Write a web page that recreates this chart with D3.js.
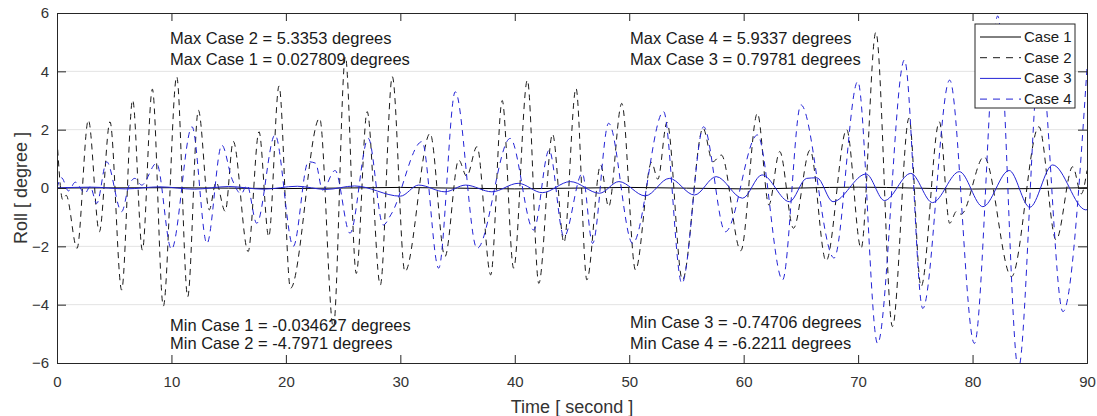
<!DOCTYPE html>
<html>
<head>
<meta charset="utf-8">
<script src="https://cdn.jsdelivr.net/npm/d3@7"></script>
<style>
  body { margin: 0; background: #fff; }
  svg { font-family: "Liberation Sans", Arial, sans-serif; }
</style>
</head>
<body>
<svg id="drawing_region"></svg>
<script>
// [time (s), roll (deg)] at turning points
const case1 = [[0,0],[10,0.01],[20,-0.02],[30,0.02],[40,-0.03],[50,0.02],[60,-0.03],[70,0.028],[80,-0.035],[90,0.01]];

const case2 = [[0,1.7],[0.5,-0.4],[0.8,-0.25],[1.75,-2.07],[2.74,2.33],[3.7,-1.5],[4.63,2.27],[5.65,-3.5],
  [6.61,3.02],[7.46,-2.13],[8.33,3.39],[9.29,-4.05],[10.46,3.82],[11.42,-3.73],[12.35,2.67],[13.3,-0.75],
  [13.9,0.2],[14.7,-0.8],[15.4,1.6],[16.7,-2.18],[17.65,1.93],[18.5,-1.67],[19.4,3.5],[20.4,-3.44],
  [22.95,2.39],[24.15,-4.8],[25.2,4.5],[26.15,-2.93],[27.1,2.62],[28.25,-3.33],[29.3,3.82],[30.4,-2.87],
  [32.6,1.87],[33.9,-2.35],[35.1,0.96],[35.8,0.4],[36.7,1.42],[37.9,-2.98],[38.9,3.0],[39.9,-2.75],
  [41.1,3.7],[42.1,-3.27],[43.3,1.85],[44.3,-1.87],[45.35,3.42],[46.3,-3.15],[47.5,0.79],[48.2,-0.64],
  [49.35,2.9],[50.55,-2.81],[51.95,0.88],[52.5,0.3],[53.3,2.25],[54.65,-3.15],[56.45,2.05],[57.3,0.9],
  [58.05,1.13],[59.75,-2.15],[61.2,2.56],[62.2,-0.58],[63.15,1.25],[64.35,-1.38],[65.8,1.3],[67.2,-2.5],
  [69.0,2.0],[70.26,-2.07],[71.55,5.34],[73.0,-4.75],[74.45,2.4],[75.5,-3.38],[77.1,2.27],[78.0,-1.21],
  [78.6,-0.8],[79.0,-0.9],[81.0,1.07],[83.4,-3.04],[85.8,2.1],[87.3,-1.78],[88.75,0.73],[89.5,-0.2],[90,0.6]];

const case3 = [[0,0],[3,0.03],[6,-0.03],[9,0.04],[12,-0.04],[15,0.05],[18,-0.04],[21,0.06],[23.5,-0.05],
  [26,0.07],[30,-0.28],[31.6,0.1],[33.9,-0.13],[35.7,0.1],[38.0,-0.13],[40.3,0.16],[42.4,-0.16],[44.85,0.22],
  [47.4,-0.18],[49.1,0.22],[51.4,-0.27],[53.5,0.33],[55.7,-0.24],[57.6,0.39],[59.9,-0.35],[61.6,0.45],
  [64.0,-0.47],[65.5,0.33],[66.4,0.35],[67.8,-0.47],[70.7,0.48],[72.3,-0.43],[74.6,0.5],[76.5,-0.5],
  [78.85,0.56],[80.9,-0.64],[83.2,0.6],[85.0,-0.66],[87.0,0.79],[89.9,-0.75],[90,-0.74]];

const case4 = [[0,0],[0.4,0.35],[1.0,-0.1],[1.6,0.2],[2.45,-0.18],[2.9,0.05],[3.47,-0.53],[4.34,0.9],
  [5.65,-0.81],[6.3,0.1],[6.8,0.33],[7.4,0.1],[8.7,0.85],[10.0,-2.1],[11.8,2.1],[13.1,-1.9],[14.4,1.47],
  [15.3,0.3],[16.1,-0.2],[16.6,0.1],[17.45,-1.21],[19.05,1.82],[20.65,-2.0],[21.96,0.9],[22.6,0.85],
  [23.2,-0.07],[24.3,0.6],[25.6,-1.55],[27.2,1.7],[28.5,-1.27],[29.2,-0.9],[31.9,1.59],[33.35,-2.75],
  [34.8,3.3],[36.7,-2.07],[39.6,1.7],[41.65,-1.44],[43.0,1.3],[44.3,-1.67],[45.9,0.5],[46.8,-1.9],
  [48.2,2.22],[50.3,-1.9],[53.0,2.62],[54.6,-3.27],[56.5,2.1],[58.4,-1.5],[61.2,1.82],[63.4,-3.15],
  [65.0,2.85],[67.9,-2.4],[69.97,3.65],[71.7,-5.33],[74.05,4.39],[75.65,-4.13],[78.0,3.7],[80.16,-5.33],
  [82.2,5.9],[84.0,-6.2],[85.9,4.5],[87.9,-4.24],[90,4.1]];

const xTicks = [0,10,20,30,40,50,60,70,80,90];
const yTicks = [-6,-4,-2,0,2,4,6];
const gridTicks = [-4,-2,2,4];

const seriesNames = ['Case 1','Case 2','Case 3','Case 4'];
const seriesColors = ['#000','#1a1a1a','#2323d6','#2323d6'];
const seriesDash = [null,'6,5',null,'6,5'];

const maxTexts = [['Max Case 2 = 5.3353 degrees','Max Case 1 = 0.027809 degrees'],
                  ['Max Case 4 = 5.9337 degrees','Max Case 3 = 0.79781 degrees']];
const minTexts = [['Min Case 1 = -0.034627 degrees','Min Case 2 = -4.7971 degrees'],
                  ['Min Case 3 = -0.74706 degrees','Min Case 4 = -6.2211 degrees']];

const width = 1097, height = 416;
const margin = {left:57, right:10, top:13, bottom:53};
const plotW = width - margin.left - margin.right;
const plotH = height - margin.top - margin.bottom;

const svg = d3.select('#drawing_region')
    .attr('width', width)
    .attr('height', height);

const xscale = d3.scaleLinear().domain([0,90]).range([margin.left, margin.left + plotW]);
const yscale = d3.scaleLinear().domain([-6,6]).range([margin.top + plotH, margin.top]);

svg.append('defs').append('clipPath').attr('id','clip')
  .append('rect')
    .attr('x', margin.left).attr('y', margin.top)
    .attr('width', plotW).attr('height', plotH);

// grid
svg.append('g').selectAll('line')
  .data(gridTicks)
  .join('line')
    .attr('x1', margin.left).attr('x2', margin.left + plotW)
    .attr('y1', d => yscale(d)).attr('y2', d => yscale(d))
    .attr('stroke', '#e3e3e3').attr('stroke-width', 1);

// series
const line = d3.line()
    .x(d => xscale(d[0]))
    .y(d => yscale(d[1]))
    .curve(d3.curveMonotoneX);

const allSeries = [case1, case2, case3, case4];
const lines = svg.append('g').attr('clip-path','url(#clip)');
allSeries.forEach((s, i) => {
  lines.append('path')
    .datum(s)
    .attr('d', line)
    .attr('fill', 'none')
    .attr('stroke', seriesColors[i])
    .attr('stroke-width', 1)
    .attr('stroke-dasharray', seriesDash[i]);
});

// axes
const axisColor = '#262626';
const xaxis = d3.axisBottom(xscale).tickValues(xTicks).tickSize(-8).tickPadding(13);
const yaxis = d3.axisLeft(yscale).tickValues(yTicks).tickSize(-9).tickPadding(8);

const styleAxis = g => {
  g.select('.domain').attr('stroke', axisColor);
  g.selectAll('.tick line').attr('stroke', axisColor);
  g.selectAll('.tick text').attr('fill', '#333').attr('font-size', 15)
    .attr('font-family', '"Liberation Sans", Arial, sans-serif');
};

svg.append('g')
    .attr('transform', `translate(0, ${margin.top + plotH})`)
    .call(xaxis).call(styleAxis);
svg.append('g')
    .attr('transform', `translate(0, ${margin.top})`)
    .call(d3.axisTop(xscale).tickValues(xTicks).tickSize(-8).tickFormat(''))
    .call(styleAxis);
svg.append('g')
    .attr('transform', `translate(${margin.left}, 0)`)
    .call(yaxis).call(styleAxis);
svg.append('g')
    .attr('transform', `translate(${margin.left + plotW}, 0)`)
    .call(d3.axisRight(yscale).tickValues(yTicks).tickSize(-9).tickFormat(''))
    .call(styleAxis);

// axis labels
svg.append('text')
    .attr('x', margin.left + plotW/2)
    .attr('y', 413)
    .attr('text-anchor', 'middle')
    .attr('font-size', 18)
    .attr('fill', '#333')
    .text('Time [ second ]');

svg.append('text')
    .attr('transform', `translate(27, ${margin.top + plotH/2}) rotate(-90)`)
    .attr('text-anchor', 'middle')
    .attr('font-size', 18)
    .attr('fill', '#333')
    .text('Roll [ degree ]');

// annotations
const annot = svg.append('g').attr('font-size', 16.5).attr('fill', '#1a1a1a');
const annotX = [170, 630];
maxTexts.forEach((pair, i) => {
  pair.forEach((t, j) => {
    annot.append('text').attr('x', annotX[i]).attr('y', 44 + j*21).text(t);
  });
});
const minY = [[331, 349], [328, 349]];
minTexts.forEach((pair, i) => {
  pair.forEach((t, j) => {
    annot.append('text').attr('x', annotX[i]).attr('y', minY[i][j]).text(t);
  });
});

// legend
const legend = svg.append('g').attr('transform', 'translate(975, 24)');
legend.append('rect')
    .attr('width', 100).attr('height', 84)
    .attr('fill', '#fff').attr('stroke', axisColor).attr('stroke-width', 1);
seriesNames.forEach((name, i) => {
  const yy = 13 + i * 20.7;
  legend.append('line')
    .attr('x1', 5).attr('x2', 46)
    .attr('y1', yy).attr('y2', yy)
    .attr('stroke', seriesColors[i])
    .attr('stroke-width', 1)
    .attr('stroke-dasharray', seriesDash[i] ? '7,6' : null);
  legend.append('text')
    .attr('x', 49).attr('y', yy + 5)
    .attr('font-size', 15)
    .attr('fill', '#1a1a1a')
    .text(name);
});
</script>
</body>
</html>
